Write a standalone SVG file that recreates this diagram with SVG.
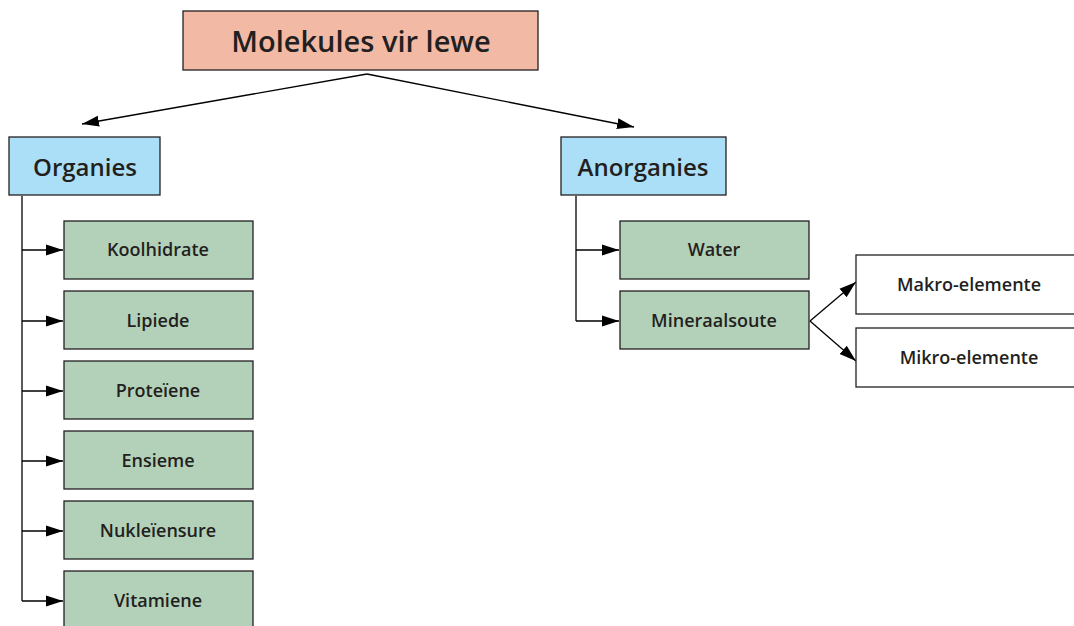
<svg xmlns="http://www.w3.org/2000/svg" width="1074" height="626" viewBox="0 0 1074 626">
<style>
text{font-family:"Open Sans","Noto Sans","Liberation Sans",sans-serif;fill:#231f20;text-anchor:middle}
.box{stroke:#231f20;stroke-width:1.3}
.top{fill:#f2baa5}
.cat{fill:#aadff7}
.leaf{fill:#b3d1b9}
.wh{fill:#ffffff}
.big{font-size:29px;font-weight:600}
.mid{font-size:24px;font-weight:600}
.sm{font-size:18px;font-weight:600}
.ln{fill:none;stroke:#000;stroke-width:1.3}
</style>
<defs>
<marker id="ah" viewBox="0 0 10 10" refX="10" refY="5" markerWidth="17" markerHeight="17" markerUnits="userSpaceOnUse" orient="auto">
<path d="M0,1.8 L10,5 L0,8.2 z" fill="#000"/>
</marker>
</defs>
<g id="connectors">
<line class="ln" x1="367" y1="74" x2="82" y2="124" marker-end="url(#ah)"/>
<line class="ln" x1="367" y1="74" x2="634" y2="127" marker-end="url(#ah)"/>
<polyline class="ln" points="22,196 22,601"/>
<line class="ln" x1="22" y1="250" x2="63" y2="250" marker-end="url(#ah)"/>
<line class="ln" x1="22" y1="321" x2="63" y2="321" marker-end="url(#ah)"/>
<line class="ln" x1="22" y1="391" x2="63" y2="391" marker-end="url(#ah)"/>
<line class="ln" x1="22" y1="461" x2="63" y2="461" marker-end="url(#ah)"/>
<line class="ln" x1="22" y1="531" x2="63" y2="531" marker-end="url(#ah)"/>
<line class="ln" x1="22" y1="601" x2="63" y2="601" marker-end="url(#ah)"/>
<polyline class="ln" points="576,196 576,321"/>
<line class="ln" x1="576" y1="250" x2="619" y2="250" marker-end="url(#ah)"/>
<line class="ln" x1="576" y1="321" x2="619" y2="321" marker-end="url(#ah)"/>
<line class="ln" x1="810" y1="321" x2="856" y2="282" marker-end="url(#ah)"/>
<line class="ln" x1="810" y1="321" x2="856" y2="361" marker-end="url(#ah)"/>
</g>
<g id="n-molekules"><rect class="box top" x="183" y="11" width="355" height="59"/><text class="big" x="361" y="52">Molekules vir lewe</text></g>
<g id="n-organies"><rect class="box cat" x="9" y="137" width="151" height="58"/><text class="mid" x="85" y="176">Organies</text></g>
<g id="n-anorganies"><rect class="box cat" x="561" y="137" width="165" height="58"/><text class="mid" x="643" y="176">Anorganies</text></g>
<g id="n-koolhidrate"><rect class="box leaf" x="64" y="221" width="189" height="58"/><text class="sm" x="158" y="256">Koolhidrate</text></g>
<g id="n-lipiede"><rect class="box leaf" x="64" y="291" width="189" height="58"/><text class="sm" x="158" y="327">Lipiede</text></g>
<g id="n-proteiene"><rect class="box leaf" x="64" y="361" width="189" height="58"/><text class="sm" x="158" y="397">Proteïene</text></g>
<g id="n-ensieme"><rect class="box leaf" x="64" y="431" width="189" height="58"/><text class="sm" x="158" y="467">Ensieme</text></g>
<g id="n-nukleiensure"><rect class="box leaf" x="64" y="501" width="189" height="58"/><text class="sm" x="158" y="537">Nukleïensure</text></g>
<g id="n-vitamiene"><rect class="box leaf" x="64" y="571" width="189" height="70"/><text class="sm" x="158" y="607">Vitamiene</text></g>
<g id="n-water"><rect class="box leaf" x="620" y="221" width="189" height="58"/><text class="sm" x="714" y="256">Water</text></g>
<g id="n-mineraalsoute"><rect class="box leaf" x="620" y="291" width="189" height="58"/><text class="sm" x="714" y="327">Mineraalsoute</text></g>
<g id="n-makro"><rect class="box wh" x="856" y="255" width="230" height="59"/><text class="sm" x="969" y="291">Makro-elemente</text></g>
<g id="n-mikro"><rect class="box wh" x="856" y="328" width="230" height="59"/><text class="sm" x="969" y="364">Mikro-elemente</text></g>
</svg>
